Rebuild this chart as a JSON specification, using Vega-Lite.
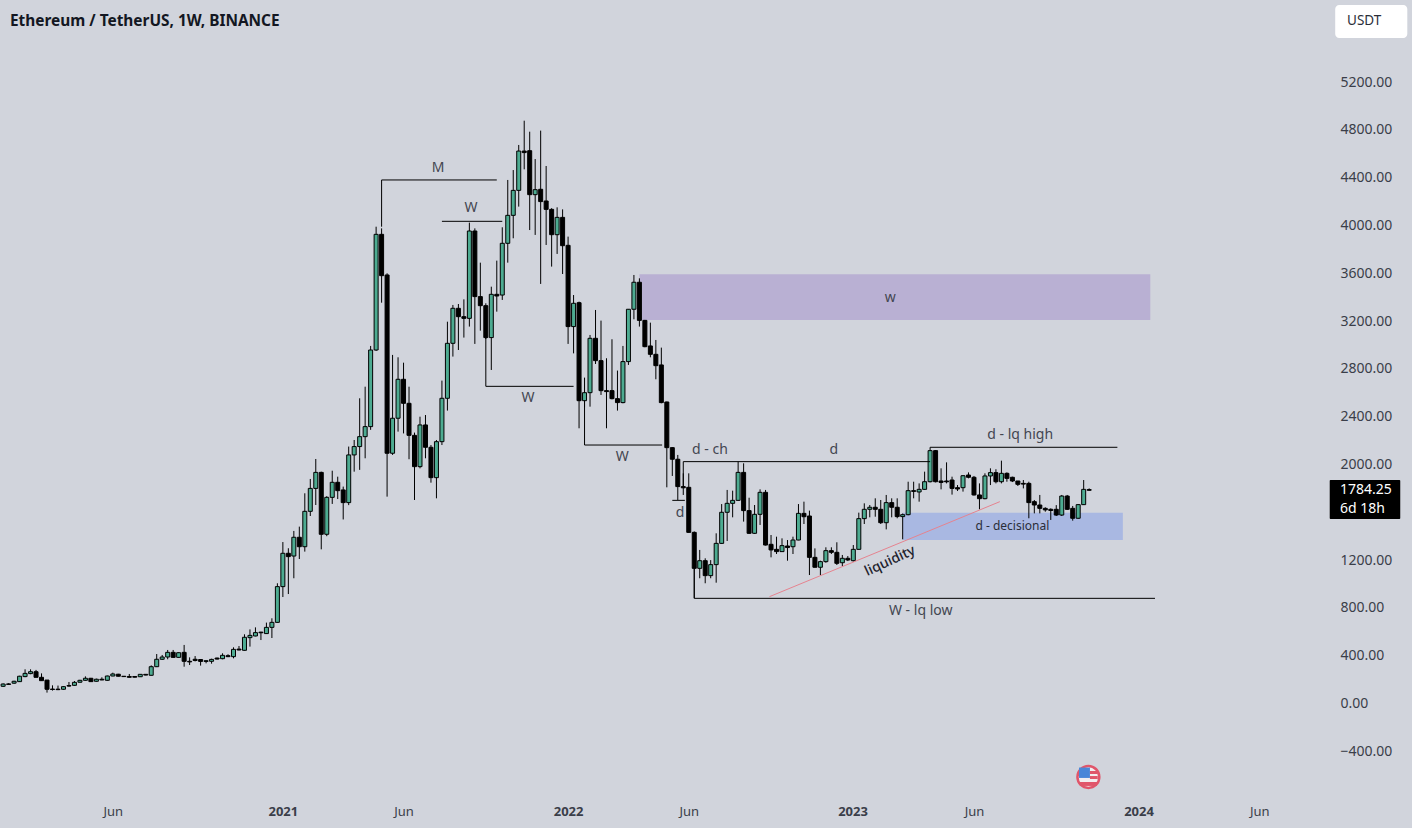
{
"$schema":"https://vega.github.io/schema/vega-lite/v6.json",
"width":1412,"height":796,"autosize":"none",
"padding":{"left":0,"top":0,"right":0,"bottom":32},
"background":"#d1d4dc",
"view":{"stroke":null},
"title":{"text":"Ethereum / TetherUS, 1W, BINANCE","anchor":"start","frame":"group","offset":-29,"dx":10,"font":"Noto Sans","fontSize":15.4,"fontWeight":"bold","color":"#131722"},
"config":{"font":"Noto Sans"},
"datasets":{
"candles":[
{"date":"2020-01-13","open":144,"high":168,"low":138,"close":163},
{"date":"2020-01-20","open":164,"high":170,"low":155,"close":160},
{"date":"2020-01-27","open":170,"high":190,"low":165,"close":186},
{"date":"2020-02-03","open":183,"high":232,"low":180,"close":228},
{"date":"2020-02-10","open":225,"high":286,"low":220,"close":252},
{"date":"2020-02-17","open":250,"high":286,"low":245,"close":266},
{"date":"2020-02-24","open":266,"high":281,"low":219,"close":219},
{"date":"2020-03-02","open":219,"high":252,"low":190,"close":191},
{"date":"2020-03-09","open":196,"high":197,"low":91,"close":119},
{"date":"2020-03-16","open":121,"high":152,"low":108,"close":117},
{"date":"2020-03-23","open":120,"high":150,"low":112,"close":116},
{"date":"2020-03-30","open":119,"high":145,"low":115,"close":141},
{"date":"2020-04-06","open":150,"high":180,"low":140,"close":146},
{"date":"2020-04-13","open":152,"high":188,"low":148,"close":177},
{"date":"2020-04-20","open":178,"high":198,"low":175,"close":194},
{"date":"2020-04-27","open":194,"high":227,"low":190,"close":211},
{"date":"2020-05-04","open":211,"high":214,"low":181,"close":183},
{"date":"2020-05-11","open":186,"high":208,"low":183,"close":203},
{"date":"2020-05-18","open":203,"high":219,"low":195,"close":197},
{"date":"2020-05-25","open":194,"high":233,"low":190,"close":230},
{"date":"2020-06-01","open":230,"high":258,"low":228,"close":247},
{"date":"2020-06-08","open":245,"high":248,"low":226,"close":228},
{"date":"2020-06-15","open":228,"high":230,"low":222,"close":225},
{"date":"2020-06-22","open":226,"high":247,"low":217,"close":219},
{"date":"2020-06-29","open":226,"high":228,"low":218,"close":220},
{"date":"2020-07-06","open":224,"high":246,"low":222,"close":244},
{"date":"2020-07-13","open":244,"high":246,"low":236,"close":238},
{"date":"2020-07-20","open":236,"high":319,"low":234,"close":308},
{"date":"2020-07-27","open":308,"high":414,"low":305,"close":370},
{"date":"2020-08-03","open":370,"high":406,"low":365,"close":389},
{"date":"2020-08-10","open":389,"high":448,"low":370,"close":428},
{"date":"2020-08-17","open":428,"high":448,"low":384,"close":386},
{"date":"2020-08-24","open":386,"high":428,"low":382,"close":425},
{"date":"2020-08-31","open":428,"high":490,"low":308,"close":353},
{"date":"2020-09-07","open":353,"high":386,"low":322,"close":348},
{"date":"2020-09-14","open":370,"high":397,"low":352,"close":360},
{"date":"2020-09-21","open":368,"high":372,"low":317,"close":352},
{"date":"2020-09-28","open":352,"high":362,"low":336,"close":358},
{"date":"2020-10-05","open":353,"high":375,"low":333,"close":369},
{"date":"2020-10-12","open":380,"high":384,"low":368,"close":372},
{"date":"2020-10-19","open":375,"high":420,"low":370,"close":403},
{"date":"2020-10-26","open":400,"high":412,"low":388,"close":392},
{"date":"2020-11-02","open":392,"high":470,"low":378,"close":453},
{"date":"2020-11-09","open":455,"high":481,"low":444,"close":448},
{"date":"2020-11-16","open":445,"high":579,"low":442,"close":554},
{"date":"2020-11-23","open":551,"high":620,"low":476,"close":570},
{"date":"2020-11-30","open":565,"high":637,"low":562,"close":593},
{"date":"2020-12-07","open":597,"high":600,"low":531,"close":592},
{"date":"2020-12-14","open":585,"high":677,"low":582,"close":637},
{"date":"2020-12-21","open":637,"high":713,"low":548,"close":679},
{"date":"2020-12-28","open":679,"high":1006,"low":676,"close":978},
{"date":"2021-01-04","open":978,"high":1351,"low":891,"close":1257},
{"date":"2021-01-11","open":1257,"high":1299,"low":916,"close":1229},
{"date":"2021-01-18","open":1234,"high":1444,"low":1048,"close":1391},
{"date":"2021-01-25","open":1391,"high":1480,"low":1209,"close":1312},
{"date":"2021-02-01","open":1312,"high":1759,"low":1271,"close":1608},
{"date":"2021-02-08","open":1608,"high":1879,"low":1569,"close":1800},
{"date":"2021-02-15","open":1800,"high":2046,"low":1661,"close":1934},
{"date":"2021-02-22","open":1934,"high":1940,"low":1290,"close":1416},
{"date":"2021-03-01","open":1416,"high":1735,"low":1400,"close":1725},
{"date":"2021-03-08","open":1725,"high":1948,"low":1670,"close":1851},
{"date":"2021-03-15","open":1851,"high":1898,"low":1711,"close":1781},
{"date":"2021-03-22","open":1787,"high":1815,"low":1540,"close":1681},
{"date":"2021-03-29","open":1681,"high":2150,"low":1660,"close":2080},
{"date":"2021-04-05","open":2080,"high":2205,"low":1940,"close":2150},
{"date":"2021-04-12","open":2150,"high":2554,"low":1955,"close":2233},
{"date":"2021-04-19","open":2233,"high":2651,"low":2052,"close":2317},
{"date":"2021-04-26","open":2317,"high":2992,"low":2290,"close":2958},
{"date":"2021-05-03","open":2958,"high":3990,"low":2950,"close":3926},
{"date":"2021-05-10","open":3926,"high":3976,"low":3354,"close":3580},
{"date":"2021-05-17","open":3586,"high":3600,"low":1731,"close":2094},
{"date":"2021-05-24","open":2094,"high":2917,"low":2080,"close":2387},
{"date":"2021-05-31","open":2387,"high":2897,"low":2275,"close":2713},
{"date":"2021-06-07","open":2713,"high":2852,"low":2260,"close":2512},
{"date":"2021-06-14","open":2512,"high":2651,"low":2044,"close":2244},
{"date":"2021-06-21","open":2244,"high":2267,"low":1703,"close":1982},
{"date":"2021-06-28","open":1982,"high":2400,"low":1968,"close":2331},
{"date":"2021-07-05","open":2331,"high":2414,"low":2052,"close":2144},
{"date":"2021-07-12","open":2144,"high":2163,"low":1848,"close":1890},
{"date":"2021-07-19","open":1890,"high":2205,"low":1717,"close":2191},
{"date":"2021-07-26","open":2191,"high":2702,"low":2163,"close":2554},
{"date":"2021-08-02","open":2554,"high":3195,"low":2451,"close":3014},
{"date":"2021-08-09","open":3014,"high":3335,"low":2903,"close":3307},
{"date":"2021-08-16","open":3307,"high":3343,"low":2958,"close":3237},
{"date":"2021-08-23","open":3237,"high":3382,"low":3062,"close":3223},
{"date":"2021-08-30","open":3223,"high":4024,"low":3154,"close":3954},
{"date":"2021-09-06","open":3954,"high":3976,"low":3009,"close":3405},
{"date":"2021-09-13","open":3405,"high":3689,"low":3120,"close":3329},
{"date":"2021-09-20","open":3329,"high":3349,"low":3050,"close":3062},
{"date":"2021-09-27","open":3062,"high":3488,"low":2791,"close":3424},
{"date":"2021-10-04","open":3424,"high":3706,"low":3279,"close":3410},
{"date":"2021-10-11","open":3418,"high":3985,"low":3377,"close":3851},
{"date":"2021-10-18","open":3851,"high":4381,"low":3689,"close":4085},
{"date":"2021-10-25","open":4085,"high":4464,"low":3893,"close":4294},
{"date":"2021-11-01","open":4294,"high":4674,"low":4158,"close":4623},
{"date":"2021-11-08","open":4623,"high":4877,"low":4470,"close":4610},
{"date":"2021-11-15","open":4626,"high":4785,"low":3962,"close":4258},
{"date":"2021-11-22","open":4258,"high":4556,"low":3921,"close":4300},
{"date":"2021-11-29","open":4303,"high":4794,"low":3511,"close":4200},
{"date":"2021-12-06","open":4205,"high":4498,"low":3837,"close":4135},
{"date":"2021-12-13","open":4135,"high":4145,"low":3656,"close":3923},
{"date":"2021-12-20","open":3923,"high":4152,"low":3762,"close":4068},
{"date":"2021-12-27","open":4068,"high":4135,"low":3594,"close":3831},
{"date":"2022-01-03","open":3834,"high":3907,"low":3009,"close":3154},
{"date":"2022-01-10","open":3154,"high":3418,"low":2930,"close":3349},
{"date":"2022-01-17","open":3354,"high":3363,"low":2303,"close":2534},
{"date":"2022-01-24","open":2534,"high":2727,"low":2480,"close":2601},
{"date":"2022-01-31","open":2601,"high":3084,"low":2484,"close":3056},
{"date":"2022-02-07","open":3056,"high":3293,"low":2841,"close":2869},
{"date":"2022-02-14","open":2869,"high":3204,"low":2582,"close":2618},
{"date":"2022-02-21","open":2618,"high":2889,"low":2303,"close":2610},
{"date":"2022-02-28","open":2618,"high":3048,"low":2545,"close":2551},
{"date":"2022-03-07","open":2551,"high":2786,"low":2451,"close":2518},
{"date":"2022-03-14","open":2518,"high":2992,"low":2512,"close":2861},
{"date":"2022-03-21","open":2861,"high":3300,"low":2833,"close":3299},
{"date":"2022-03-28","open":3299,"high":3586,"low":3215,"close":3525},
{"date":"2022-04-04","open":3525,"high":3558,"low":3154,"close":3206},
{"date":"2022-04-11","open":3206,"high":3210,"low":2981,"close":2986},
{"date":"2022-04-18","open":2992,"high":3187,"low":2897,"close":2922},
{"date":"2022-04-25","open":2922,"high":3042,"low":2713,"close":2827},
{"date":"2022-05-02","open":2833,"high":2978,"low":2512,"close":2518},
{"date":"2022-05-09","open":2523,"high":2526,"low":1809,"close":2141},
{"date":"2022-05-16","open":2141,"high":2145,"low":1904,"close":2044},
{"date":"2022-05-23","open":2044,"high":2080,"low":1703,"close":1815},
{"date":"2022-05-30","open":1815,"high":1926,"low":1745,"close":1805},
{"date":"2022-06-06","open":1809,"high":1926,"low":1430,"close":1432},
{"date":"2022-06-13","open":1432,"high":1440,"low":881,"close":1131},
{"date":"2022-06-20","open":1131,"high":1285,"low":1048,"close":1195},
{"date":"2022-06-27","open":1195,"high":1215,"low":1006,"close":1070},
{"date":"2022-07-04","open":1070,"high":1200,"low":1048,"close":1162},
{"date":"2022-07-11","open":1162,"high":1424,"low":1011,"close":1340},
{"date":"2022-07-18","open":1340,"high":1669,"low":1335,"close":1600},
{"date":"2022-07-25","open":1600,"high":1787,"low":1360,"close":1675},
{"date":"2022-08-01","open":1675,"high":1781,"low":1558,"close":1700},
{"date":"2022-08-08","open":1700,"high":2024,"low":1695,"close":1934},
{"date":"2022-08-15","open":1934,"high":2010,"low":1522,"close":1614},
{"date":"2022-08-22","open":1614,"high":1722,"low":1420,"close":1424},
{"date":"2022-08-29","open":1424,"high":1661,"low":1419,"close":1583},
{"date":"2022-09-05","open":1583,"high":1792,"low":1494,"close":1767},
{"date":"2022-09-12","open":1767,"high":1787,"low":1322,"close":1326},
{"date":"2022-09-19","open":1332,"high":1410,"low":1223,"close":1285},
{"date":"2022-09-26","open":1290,"high":1396,"low":1251,"close":1271},
{"date":"2022-10-03","open":1271,"high":1382,"low":1270,"close":1321},
{"date":"2022-10-10","open":1318,"high":1368,"low":1195,"close":1305},
{"date":"2022-10-17","open":1312,"high":1396,"low":1251,"close":1368},
{"date":"2022-10-24","open":1368,"high":1669,"low":1366,"close":1591},
{"date":"2022-10-31","open":1591,"high":1689,"low":1502,"close":1563},
{"date":"2022-11-07","open":1569,"high":1614,"low":1075,"close":1223},
{"date":"2022-11-14","open":1223,"high":1298,"low":1138,"close":1140},
{"date":"2022-11-21","open":1140,"high":1195,"low":1075,"close":1187},
{"date":"2022-11-28","open":1187,"high":1307,"low":1178,"close":1279},
{"date":"2022-12-05","open":1279,"high":1307,"low":1251,"close":1265},
{"date":"2022-12-12","open":1265,"high":1349,"low":1159,"close":1173},
{"date":"2022-12-19","open":1178,"high":1243,"low":1150,"close":1215},
{"date":"2022-12-26","open":1215,"high":1234,"low":1192,"close":1201},
{"date":"2023-01-02","open":1195,"high":1326,"low":1187,"close":1290},
{"date":"2023-01-09","open":1290,"high":1597,"low":1288,"close":1547},
{"date":"2023-01-16","open":1547,"high":1675,"low":1502,"close":1625},
{"date":"2023-01-23","open":1625,"high":1661,"low":1558,"close":1642},
{"date":"2023-01-30","open":1642,"high":1717,"low":1563,"close":1625},
{"date":"2023-02-06","open":1625,"high":1703,"low":1502,"close":1513},
{"date":"2023-02-13","open":1513,"high":1745,"low":1457,"close":1681},
{"date":"2023-02-20","open":1681,"high":1717,"low":1558,"close":1642},
{"date":"2023-02-27","open":1642,"high":1717,"low":1550,"close":1564},
{"date":"2023-03-06","open":1564,"high":1590,"low":1374,"close":1580},
{"date":"2023-03-13","open":1580,"high":1856,"low":1575,"close":1781},
{"date":"2023-03-20","open":1781,"high":1856,"low":1717,"close":1775},
{"date":"2023-03-27","open":1770,"high":1842,"low":1689,"close":1792},
{"date":"2023-04-03","open":1792,"high":1940,"low":1788,"close":1856},
{"date":"2023-04-10","open":1856,"high":2144,"low":1850,"close":2116},
{"date":"2023-04-17","open":2116,"high":2121,"low":1850,"close":1856},
{"date":"2023-04-24","open":1862,"high":1968,"low":1792,"close":1850},
{"date":"2023-05-01","open":1862,"high":2018,"low":1842,"close":1855},
{"date":"2023-05-08","open":1870,"high":1898,"low":1748,"close":1800},
{"date":"2023-05-15","open":1806,"high":1828,"low":1778,"close":1795},
{"date":"2023-05-22","open":1806,"high":1912,"low":1773,"close":1906},
{"date":"2023-05-29","open":1912,"high":1934,"low":1884,"close":1893},
{"date":"2023-06-05","open":1893,"high":1904,"low":1740,"close":1745},
{"date":"2023-06-12","open":1745,"high":1842,"low":1625,"close":1714},
{"date":"2023-06-19","open":1714,"high":1926,"low":1709,"close":1904},
{"date":"2023-06-26","open":1904,"high":1968,"low":1828,"close":1932},
{"date":"2023-07-03","open":1932,"high":1960,"low":1842,"close":1856},
{"date":"2023-07-10","open":1856,"high":2032,"low":1842,"close":1926},
{"date":"2023-07-17","open":1926,"high":1934,"low":1856,"close":1884},
{"date":"2023-07-24","open":1893,"high":1898,"low":1853,"close":1862},
{"date":"2023-07-31","open":1862,"high":1862,"low":1820,"close":1834},
{"date":"2023-08-07","open":1842,"high":1870,"low":1800,"close":1836},
{"date":"2023-08-14","open":1842,"high":1856,"low":1550,"close":1681},
{"date":"2023-08-21","open":1689,"high":1703,"low":1591,"close":1661},
{"date":"2023-08-28","open":1661,"high":1745,"low":1591,"close":1633},
{"date":"2023-09-04","open":1633,"high":1642,"low":1605,"close":1620},
{"date":"2023-09-11","open":1625,"high":1633,"low":1536,"close":1615},
{"date":"2023-09-18","open":1625,"high":1660,"low":1569,"close":1577},
{"date":"2023-09-25","open":1577,"high":1745,"low":1569,"close":1736},
{"date":"2023-10-02","open":1736,"high":1745,"low":1620,"close":1625},
{"date":"2023-10-09","open":1633,"high":1653,"low":1530,"close":1550},
{"date":"2023-10-16","open":1550,"high":1669,"low":1547,"close":1664},
{"date":"2023-10-23","open":1664,"high":1870,"low":1661,"close":1792},
{"date":"2023-10-30","open":1790,"high":1800,"low":1781,"close":1784.25}
],
"zones":[
{"zone":"supply","date":"2022-04-04","date2":"2024-01-16","price":3592,"price2":3209},
{"zone":"demand","date":"2023-03-06","date2":"2023-12-12","price":1597,"price2":1368}
],
"segments":[
{"kind":"level","date":"2021-05-10","date2":"2021-05-10","price":3990,"price2":4381},
{"kind":"level","date":"2021-05-10","date2":"2021-10-04","price":4381,"price2":4381},
{"kind":"level","date":"2021-07-26","date2":"2021-10-11","price":4035,"price2":4035},
{"kind":"level","date":"2021-09-20","date2":"2021-09-20","price":3061,"price2":2654},
{"kind":"level","date":"2021-09-20","date2":"2022-01-10","price":2654,"price2":2654},
{"kind":"level","date":"2022-01-24","date2":"2022-01-24","price":2534,"price2":2163},
{"kind":"level","date":"2022-01-24","date2":"2022-05-03","price":2163,"price2":2163},
{"kind":"level","date":"2022-05-30","date2":"2022-05-30","price":1815,"price2":2024},
{"kind":"level","date":"2022-05-30","date2":"2023-04-10","price":2024,"price2":2024},
{"kind":"level","date":"2022-05-16","date2":"2022-06-01","price":1700,"price2":1700},
{"kind":"level","date":"2022-06-13","date2":"2022-06-13","price":1131,"price2":880},
{"kind":"level","date":"2022-06-13","date2":"2024-01-22","price":880,"price2":880},
{"kind":"level","date":"2023-04-10","date2":"2023-12-05","price":2144,"price2":2144},
{"kind":"trend","date":"2022-09-17","date2":"2023-07-08","price":894,"price2":1689}
],
"notes":[
{"date":"2021-07-21","price":4478,"text":"M"},
{"date":"2021-09-01","price":4147,"text":"W"},
{"date":"2021-11-13","price":2557,"text":"W"},
{"date":"2022-03-13","price":2063,"text":"W"},
{"date":"2023-02-18","price":3394,"text":"w"},
{"date":"2022-07-03","price":2122,"text":"d - ch"},
{"date":"2022-12-08","price":2122,"text":"d"},
{"date":"2022-05-26","price":1595,"text":"d"},
{"date":"2023-08-03","price":2247,"text":"d - lq high"},
{"date":"2023-03-29","price":774,"text":"W - lq low"}
],
"flag":[
{"part":"canton","date":"2023-10-17","date2":"2023-10-31","price":-536,"price2":-623},
{"part":"stripe","date":"2023-10-31","date2":"2023-11-10","price":-565,"price2":-590},
{"part":"stripe","date":"2023-10-31","date2":"2023-11-10","price":-607,"price2":-632},
{"part":"stripe","date":"2023-10-18","date2":"2023-11-09","price":-657,"price2":-690}
]
},
"layer":[
{"data":{"name":"zones"},"mark":{"type":"rect"},
 "encoding":{
  "x":{"field":"date","type":"temporal","title":null,
   "scale":{"type":"utc","domain":["2020-01-09","2024-12-15"],"padding":0},
   "axis":{"orient":"bottom","domain":false,"ticks":false,"grid":false,"labelPadding":9,"labelFontSize":13,"labelFont":"Noto Sans","labelColor":"#3a3e49","labelOverlap":false,"labelFlush":false,
    "values":["2020-06-01","2021-01-04","2021-06-07","2022-01-03","2022-06-06","2023-01-01","2023-06-05","2024-01-01","2024-06-03"],
    "labelExpr":"utcFormat(datum.value,'%b')=='Jun'?'Jun':utcFormat(datum.value,'%Y')",
    "labelFontWeight":{"condition":{"test":"utcFormat(datum.value,'%b')!='Jun'","value":"bold"},"value":"normal"}}},
  "x2":{"field":"date2"},
  "y":{"field":"price","type":"quantitative","title":null,
   "scale":{"domain":[-774.1,5887],"nice":false,"zero":false},
   "axis":{"orient":"right","offset":-72,"domain":false,"ticks":false,"grid":false,"labelPadding":0,"labelFontSize":14,"labelFont":"Noto Sans","labelColor":"#3a3e49","format":".2f","labelOverlap":false,"labelFlush":false,
    "values":[5200,4800,4400,4000,3600,3200,2800,2400,2000,1200,800,400,0,-400]}},
  "y2":{"field":"price2"},
  "color":{"field":"zone","type":"nominal","legend":null,"scale":{"domain":["supply","demand"],"range":["#b9b0d3","#a9b8e2"]}}
 }},
{"data":{"name":"candles"},"mark":{"type":"rule","strokeWidth":1,"color":"#000000"},
 "encoding":{"x":{"field":"date","type":"temporal"},"y":{"field":"low","type":"quantitative"},"y2":{"field":"high"}}},
{"data":{"name":"candles"},"mark":{"type":"bar","width":4,"stroke":"#000000","strokeWidth":1},
 "encoding":{"x":{"field":"date","type":"temporal"},"y":{"field":"open","type":"quantitative"},"y2":{"field":"close"},
  "color":{"condition":{"test":"datum.close>=datum.open","value":"#4dab91"},"value":"#000000"}}},
{"data":{"name":"segments"},"mark":{"type":"rule","strokeWidth":1},
 "encoding":{"x":{"field":"date","type":"temporal"},"x2":{"field":"date2"},"y":{"field":"price","type":"quantitative"},"y2":{"field":"price2"},
  "color":{"field":"kind","type":"nominal","legend":null,"scale":{"domain":["level","trend"],"range":["#000000","#e5838f"]}}}},
{"data":{"name":"notes"},"mark":{"type":"text","fontSize":14,"color":"#434651","font":"Noto Sans"},
 "encoding":{"x":{"field":"date","type":"temporal"},"y":{"field":"price","type":"quantitative"},"text":{"field":"text"}}},
{"data":{"values":[{"date":"2023-07-24","price":1485,"text":"d - decisional"}]},"mark":{"type":"text","fontSize":12,"color":"#2a2e39","font":"Noto Sans"},
 "encoding":{"x":{"field":"date","type":"temporal"},"y":{"field":"price","type":"quantitative"},"text":{"field":"text"}}},
{"data":{"values":[{"date":"2023-02-18","price":1192,"text":"liquidity"}]},"mark":{"type":"text","fontSize":14,"angle":335,"color":"#1e222d","font":"Noto Sans","fontWeight":500},
 "encoding":{"x":{"field":"date","type":"temporal"},"y":{"field":"price","type":"quantitative"},"text":{"field":"text"}}},
{"data":{"values":[{"date":"2024-09-08","date2":"2024-12-09","price":5845,"price2":5570}]},"mark":{"type":"rect","color":"#ffffff","cornerRadius":4},
 "encoding":{"x":{"field":"date","type":"temporal"},"x2":{"field":"date2"},"y":{"field":"price","type":"quantitative"},"y2":{"field":"price2"}}},
{"data":{"values":[{"date":"2024-10-15","price":5711,"text":"USDT"}]},"mark":{"type":"text","fontSize":13.5,"color":"#2a2e39","font":"Noto Sans"},
 "encoding":{"x":{"field":"date","type":"temporal"},"y":{"field":"price","type":"quantitative"},"text":{"field":"text"}}},
{"data":{"values":[{"date":"2024-09-01","date2":"2024-11-30","price":1870,"price2":1544}]},"mark":{"type":"rect","color":"#000000","cornerRadius":1},
 "encoding":{"x":{"field":"date","type":"temporal"},"y":{"field":"price","type":"quantitative"},"x2":{"field":"date2"},"y2":{"field":"price2"}}},
{"data":{"values":[{"date":"2024-09-14","price":1786,"text":"1784.25"},{"date":"2024-09-14","price":1626,"text":"6d 18h"}]},"mark":{"type":"text","fontSize":14,"align":"left","color":"#ffffff","font":"Noto Sans"},
 "encoding":{"x":{"field":"date","type":"temporal"},"y":{"field":"price","type":"quantitative"},"text":{"field":"text"}}},
{"data":{"values":[{"date":"2023-10-29","price":-615}]},"mark":{"type":"point","shape":"circle","filled":true,"size":480,"fill":"#f3eef0","stroke":"#e0566b","strokeWidth":2.5,"opacity":1},
 "encoding":{"x":{"field":"date","type":"temporal"},"y":{"field":"price","type":"quantitative"}}},
{"data":{"name":"flag"},"mark":{"type":"rect"},
 "encoding":{"x":{"field":"date","type":"temporal"},"x2":{"field":"date2"},"y":{"field":"price","type":"quantitative"},"y2":{"field":"price2"},
  "color":{"field":"part","type":"nominal","legend":null,"scale":{"domain":["canton","stripe"],"range":["#4a86d8","#e0566b"]}}}}
],
"resolve":{"scale":{"color":"independent"}}
}
